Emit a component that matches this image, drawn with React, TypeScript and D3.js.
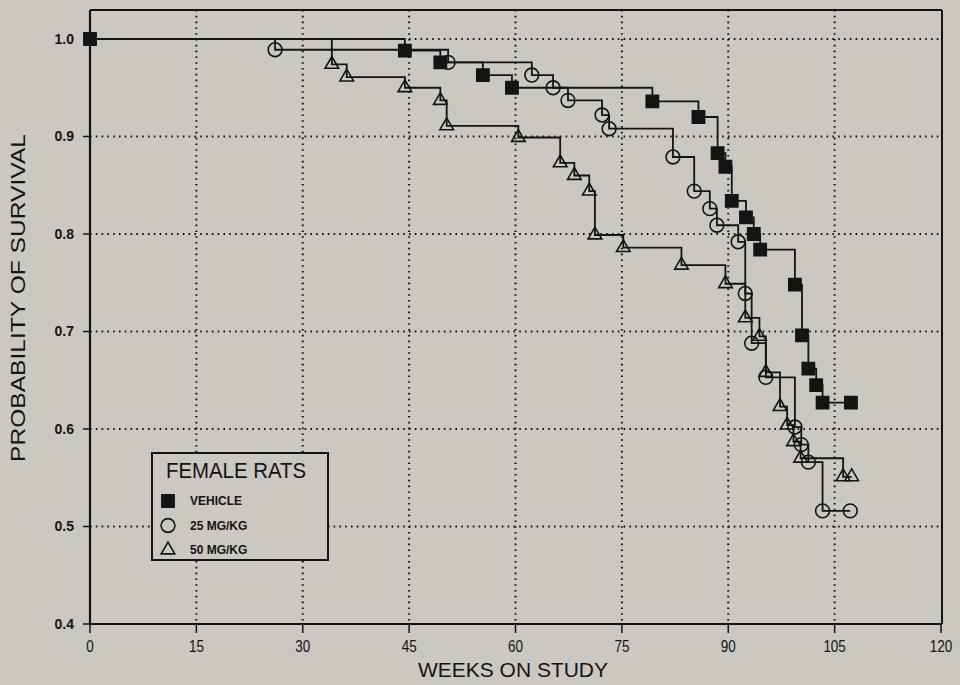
import React from 'react'
import * as d3 from 'd3'

// Kaplan-Meier steps: [weeks, survival]
const weeksVehicle = [0, 44.4, 49.4, 55.4, 59.5, 79.3, 85.8, 88.5, 89.6, 90.5, 92.5, 93.6, 94.5, 99.4, 100.4, 101.3, 102.4, 103.3, 107.3]
const survVehicle = [1.0, 0.988, 0.976, 0.963, 0.95, 0.936, 0.92, 0.883, 0.869, 0.834, 0.817, 0.8, 0.784, 0.748, 0.696, 0.662, 0.645, 0.627, 0.627]

const weeks25 = [0, 26.1, 50.5, 62.3, 65.3, 67.4, 72.2, 73.2, 82.2, 85.2, 87.4, 88.4, 91.4, 92.4, 93.3, 95.3, 99.4, 100.3, 101.3, 103.3, 107.2]
const surv25 = [1.0, 0.989, 0.976, 0.963, 0.95, 0.937, 0.922, 0.908, 0.879, 0.844, 0.826, 0.809, 0.792, 0.739, 0.688, 0.653, 0.602, 0.584, 0.566, 0.516, 0.516]

const weeks50 = [0, 34.1, 36.2, 44.4, 49.4, 50.3, 60.4, 66.3, 68.3, 70.4, 71.2, 75.2, 83.4, 89.6, 92.4, 94.4, 95.3, 97.3, 98.3, 99.2, 100.2, 106.2, 107.4]
const surv50 = [1.0, 0.974, 0.961, 0.95, 0.937, 0.911, 0.899, 0.873, 0.86, 0.844, 0.799, 0.786, 0.768, 0.749, 0.714, 0.695, 0.658, 0.623, 0.604, 0.587, 0.57, 0.551, 0.551]

const xTicks = [0, 15, 30, 45, 60, 75, 90, 105, 120]
const yTicks = [0.4, 0.5, 0.6, 0.7, 0.8, 0.9, 1.0]
const legendLabels = ['VEHICLE', '25 MG/KG', '50 MG/KG']

const W = 960
const H = 685
const BG = '#cac8c0'
const INK = '#141414'

const x = d3.scaleLinear().domain([0, 120]).range([90, 941])
const y = d3.scaleLinear().domain([0.4, 1.0]).range([624, 39])

const line = d3.line<[number, number]>()
  .x(d => x(d[0]))
  .y(d => y(d[1]))
  .curve(d3.curveStepAfter)

const sq = d3.symbol().type(d3.symbolSquare).size(150)()
const circ = d3.symbol().type(d3.symbolCircle).size(150)()
const tri = d3.symbol().type(d3.symbolTriangle).size(80)()

const series = [
  { key: 'veh', pts: weeksVehicle.map((w, i) => [w, survVehicle[i]] as [number, number]), shape: sq, filled: true, skipFirst: false },
  { key: 'd25', pts: weeks25.map((w, i) => [w, surv25[i]] as [number, number]), shape: circ, filled: false, skipFirst: true },
  { key: 'd50', pts: weeks50.map((w, i) => [w, surv50[i]] as [number, number]), shape: tri, filled: false, skipFirst: true },
]
const drawOrder = [series[2], series[1], series[0]]

const sans = '"Liberation Sans", Arial, sans-serif'

export default function App() {
  return (
    <svg width={W} height={H} style={{ position: 'absolute', left: 0, top: 0, background: BG }}>
      <rect width={W} height={H} fill={BG} />

      {/* dotted grid */}
      {yTicks.filter(t => t > 0.4).map(t => (
        <line key={'gy' + t} x1={x(0)} x2={x(120)} y1={y(t)} y2={y(t)}
          stroke={INK} strokeWidth={2} strokeDasharray="1.6,4.2" />
      ))}
      {xTicks.filter(t => t > 0 && t < 120).map(t => (
        <line key={'gx' + t} x1={x(t)} x2={x(t)} y1={10} y2={y(0.4)}
          stroke={INK} strokeWidth={2} strokeDasharray="1.6,4.2" />
      ))}

      {/* frame */}
      <line x1={x(0)} x2={942} y1={10} y2={10} stroke={INK} strokeWidth={2} />
      <line x1={942} x2={942} y1={10} y2={y(0.4)} stroke={INK} strokeWidth={2} />
      <line x1={x(0)} x2={x(0)} y1={10} y2={y(0.4)} stroke={INK} strokeWidth={2.2} />
      <line x1={x(0)} x2={942} y1={y(0.4)} y2={y(0.4)} stroke={INK} strokeWidth={2.2} />

      {/* y axis ticks + labels */}
      {yTicks.map(t => (
        <g key={'yt' + t}>
          <line x1={x(0) - 7} x2={x(0)} y1={y(t)} y2={y(t)} stroke={INK} strokeWidth={1.5} />
          <text x={x(0) - 16} y={y(t)} dy="0.35em" textAnchor="end" fontSize={14} fontWeight="bold"
            fontFamily={sans} fill={INK}>{t.toFixed(1)}</text>
        </g>
      ))}

      {/* x axis ticks + labels */}
      {xTicks.map(t => (
        <g key={'xt' + t}>
          <line x1={x(t)} x2={x(t)} y1={y(0.4)} y2={y(0.4) + 9} stroke={INK} strokeWidth={1.5} />
          <text x={x(t)} y={652} textAnchor="middle" fontSize={16} fontFamily={sans} fill={INK}
            textLength={String(t).length * 7.5} lengthAdjust="spacingAndGlyphs">{t}</text>
        </g>
      ))}

      {/* axis titles */}
      <text x={513} y={677} textAnchor="middle" fontSize={21} fontFamily={sans} fill={INK}
        textLength={190} lengthAdjust="spacingAndGlyphs">WEEKS ON STUDY</text>
      <text transform="translate(25,298) rotate(-90)" textAnchor="middle" fontSize={21} fontFamily={sans} fill={INK}
        textLength={328} lengthAdjust="spacingAndGlyphs">PROBABILITY OF SURVIVAL</text>

      {/* survival steps */}
      {drawOrder.map(s => (
        <path key={'l' + s.key} d={line(s.pts) || ''} fill="none" stroke={INK} strokeWidth={1.8} />
      ))}
      {drawOrder.map(s => (
        <g key={'m' + s.key}>
          {s.pts.filter((_, i) => !(s.skipFirst && i === 0)).map((p, i) => (
            <path key={i} d={s.shape || ''} transform={`translate(${x(p[0])},${y(p[1])})`}
              fill={s.filled ? INK : 'none'} stroke={INK} strokeWidth={1.6} />
          ))}
        </g>
      ))}

      {/* legend */}
      <g>
        <rect x={152} y={453} width={176} height={107} fill={BG} stroke={INK} strokeWidth={2} />
        <text x={166} y={478} fontSize={22} fontFamily={sans} fill={INK}
          textLength={140} lengthAdjust="spacingAndGlyphs">FEMALE RATS</text>
        {legendLabels.map((lab, i) => {
          const s = series[i]
          const ly = 501 + i * 24.5
          return (
            <g key={lab}>
              <path d={s.shape || ''} transform={`translate(168,${ly})`} fill={s.filled ? INK : 'none'}
                stroke={INK} strokeWidth={1.6} />
              <text x={190} y={ly} dy="0.36em" fontSize={12} fontWeight="bold"
                fontFamily={sans} fill={INK}>{lab}</text>
            </g>
          )
        })}
      </g>
    </svg>
  )
}
